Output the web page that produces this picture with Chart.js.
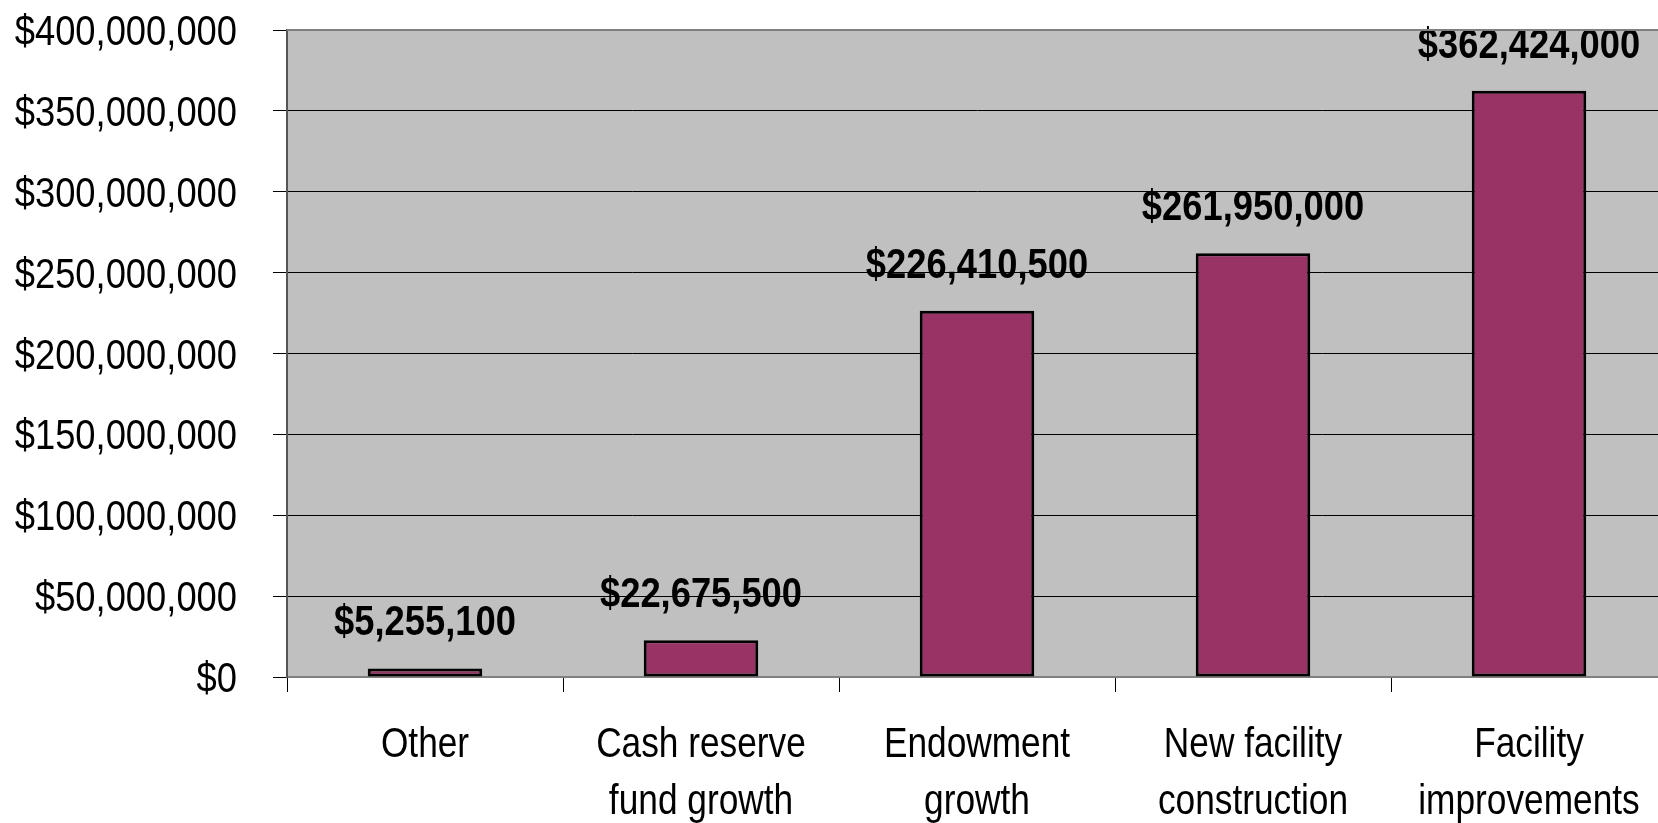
<!DOCTYPE html>
<html>
<head>
<meta charset="utf-8">
<title>Projected uses of funds</title>
<script src="https://cdn.jsdelivr.net/npm/chart.js@4/dist/chart.umd.min.js"></script>
<style>
  html, body { margin: 0; padding: 0; background: #fff; overflow: hidden; }
  #wrap { width: 1668px; height: 823px; }
</style>
</head>
<body>
<div id="wrap"><canvas id="chart" width="1668" height="823"></canvas></div>
<script>
'use strict';

var categories = [
  'Other',
  ['Cash reserve', 'fund growth'],
  ['Endowment', 'growth'],
  ['New facility', 'construction'],
  ['Facility', 'improvements']
];
var amounts = [5255100, 22675500, 226410500, 261950000, 362424000];
var yTicks = [0, 50000000, 100000000, 150000000, 200000000, 250000000, 300000000, 350000000, 400000000];

var family = "'Liberation Sans', Arial, sans-serif";
var squeezeWords = 0.82;    // Liberation Sans pressed to narrow width
var squeezeMoney = 0.845;   // figures sit a little looser

function money(v) {
  return '$' + Number(v).toLocaleString('en-US');
}

// draw text squeezed horizontally around (x, y)
function narrowText(ctx, text, x, y, align, sx) {
  ctx.save();
  ctx.translate(x, y);
  ctx.scale(sx, 1);
  ctx.textAlign = align;
  ctx.textBaseline = 'alphabetic';
  ctx.fillText(text, 0, 0);
  ctx.restore();
}

// grey plot area + darker frame along the top
var plotBox = {
  id: 'plotBox',
  beforeDraw: function(chart) {
    var a = chart.chartArea, ctx = chart.ctx;
    ctx.save();
    ctx.fillStyle = '#c0c0c0';
    ctx.fillRect(a.left, a.top, a.right - a.left, a.bottom - a.top);
    ctx.restore();
  },
  afterDraw: function(chart) {
    var a = chart.chartArea, ctx = chart.ctx;
    ctx.save();
    ctx.strokeStyle = '#808080';
    ctx.lineWidth = 2;
    ctx.beginPath();
    ctx.moveTo(a.left, a.top);
    ctx.lineTo(a.right, a.top);
    ctx.stroke();
    ctx.restore();
  }
};

// axis labels in narrow type, placed off the scales
var axisLabels = {
  id: 'axisLabels',
  afterDraw: function(chart) {
    var ctx = chart.ctx, xs = chart.scales.x, ys = chart.scales.y;
    ctx.save();
    ctx.fillStyle = '#000';
    ctx.font = '43px ' + family;

    ys.ticks.forEach(function(t) {
      narrowText(ctx, money(t.value), ys.right - 50, ys.getPixelForValue(t.value) + 15, 'right', squeezeMoney);
    });

    categories.forEach(function(lbl, i) {
      var lines = [].concat(lbl);
      var x = xs.getPixelForTick(i);
      lines.forEach(function(line, j) {
        narrowText(ctx, line, x, xs.top + 80 + j * 57, 'center', squeezeWords);
      });
    });
    ctx.restore();
  }
};

// value written above each bar
var barValues = {
  id: 'barValues',
  afterDatasetsDraw: function(chart) {
    var ctx = chart.ctx;
    var meta = chart.getDatasetMeta(0);
    ctx.save();
    ctx.font = 'bold 43px ' + family;
    ctx.fillStyle = '#000';
    meta.data.forEach(function(bar, i) {
      narrowText(ctx, money(amounts[i]), bar.x, bar.y - 33, 'center', squeezeMoney);
    });
    ctx.restore();
  }
};

var ctx = document.getElementById('chart').getContext('2d');

new Chart(ctx, {
  type: 'bar',
  data: {
    labels: categories,
    datasets: [{
      data: amounts,
      backgroundColor: '#993366',
      borderColor: '#000000',
      borderWidth: 3,
      borderSkipped: false,
      barPercentage: 0.415,
      categoryPercentage: 1
    }]
  },
  options: {
    responsive: false,
    animation: false,
    layout: { padding: { top: 30, right: 1, left: 0, bottom: 0 } },
    plugins: {
      legend: { display: false },
      tooltip: { enabled: false }
    },
    scales: {
      x: {
        offset: true,
        grid: {
          display: true,
          offset: true,
          drawOnChartArea: false,
          color: '#000',
          tickLength: 15,
          tickWidth: 1
        },
        border: { color: '#808080', width: 2 },
        ticks: { display: false },
        afterFit: function(scale) { scale.height = 146; }
      },
      y: {
        min: 0,
        max: 400000000,
        afterBuildTicks: function(scale) {
          scale.ticks = yTicks.map(function(v) { return { value: v }; });
        },
        grid: {
          color: '#000',
          lineWidth: 1,
          tickLength: 14
        },
        border: { color: '#555', width: 2 },
        ticks: { display: false },
        afterFit: function(scale) { scale.width = 287; }
      }
    }
  },
  plugins: [plotBox, barValues, axisLabels]
});
</script>
</body>
</html>
